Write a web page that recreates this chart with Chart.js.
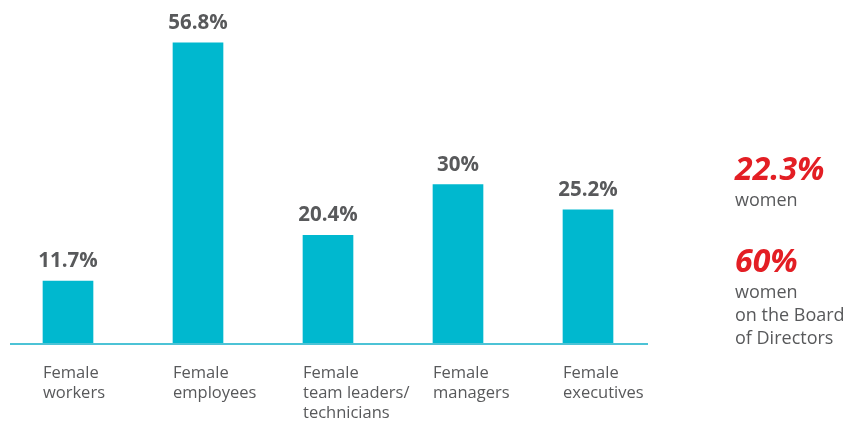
<!DOCTYPE html>
<html>
<head>
<meta charset="utf-8">
<script src="https://cdn.jsdelivr.net/npm/chart.js@4"></script>
<style>
  html, body { margin: 0; padding: 0; background: #fff; }
  #wrap { position: relative; width: 850px; height: 422px; }
</style>
</head>
<body>
<div id="wrap"><canvas id="womenChart"></canvas></div>
<script>
// Data
var categories = [
    ['Female', 'workers'],
    ['Female', 'employees'],
    ['Female', 'team leaders/', 'technicians'],
    ['Female', 'managers'],
    ['Female', 'executives']
];
var shares = [11.7, 56.8, 20.4, 30, 25.2];
var shareLabels = ['11.7%', '56.8%', '20.4%', '30%', '25.2%'];

// Side notes
var noteValues = ['22.3%', '60%'];
var noteTexts = [['women'], ['women', 'on the Board', 'of Directors']];

var BAR = '#00b8cf';
var GREY = '#58595b';
var RED = '#e31e24';
var FONT = '"Open Sans", sans-serif';

// value labels above each bar
var valueLabels = {
    id: 'valueLabels',
    afterDatasetsDraw: function(chart) {
        var ctx = chart.ctx;
        var meta = chart.getDatasetMeta(0);
        ctx.save();
        ctx.font = 'bold 20.5px ' + FONT;
        ctx.fillStyle = GREY;
        ctx.textAlign = 'center';
        ctx.textBaseline = 'alphabetic';
        meta.data.forEach(function(bar, i) {
            ctx.fillText(shareLabels[i], bar.x, bar.y - 14);
        });
        ctx.restore();
    }
};

// thin cyan baseline under the bars
var baseline = {
    id: 'baseline',
    afterDatasetsDraw: function(chart) {
        var ctx = chart.ctx;
        var area = chart.chartArea;
        var y = chart.scales.y.getPixelForValue(0);
        ctx.save();
        ctx.strokeStyle = '#4cc3d6';
        ctx.lineWidth = 2;
        ctx.beginPath();
        ctx.moveTo(area.left + 7, y + 1);
        ctx.lineTo(area.right - 5, y + 1);
        ctx.stroke();
        ctx.restore();
    }
};

// the two notes on the right
var sideNotes = {
    id: 'sideNotes',
    afterDraw: function(chart) {
        var ctx = chart.ctx;
        var x = 735;
        var tops = [180, 272];
        ctx.save();
        ctx.textAlign = 'left';
        ctx.textBaseline = 'alphabetic';
        noteValues.forEach(function(v, i) {
            ctx.font = 'italic bold 32px ' + FONT;
            ctx.fillStyle = RED;
            ctx.fillText(v, x, tops[i]);
            ctx.font = '18px ' + FONT;
            ctx.fillStyle = GREY;
            noteTexts[i].forEach(function(line, j) {
                ctx.fillText(line, x, tops[i] + 26 + j * 23);
            });
        });
        ctx.restore();
    }
};

new Chart(document.getElementById('womenChart'), {
    type: 'bar',
    data: {
        labels: categories,
        datasets: [{
            data: shares,
            backgroundColor: BAR,
            borderWidth: 0,
            barThickness: 50
        }]
    },
    options: {
        responsive: true,
        maintainAspectRatio: false,
        animation: false,
        layout: {
            // tick padding is counted twice in the axis height, pull it back
            padding: { left: 3, right: 197, top: 26, bottom: -21 }
        },
        plugins: {
            legend: { display: false },
            tooltip: { enabled: false }
        },
        scales: {
            x: {
                grid: { display: false, drawTicks: false },
                border: { display: false },
                ticks: {
                    color: GREY,
                    align: 'start',
                    labelOffset: -25,
                    padding: 20,
                    maxRotation: 0,
                    autoSkip: false,
                    font: { family: FONT, size: 16.5, lineHeight: '20px' }
                }
            },
            y: {
                display: false,
                min: 0,
                max: 60
            }
        }
    },
    plugins: [valueLabels, baseline, sideNotes]
});
</script>
</body>
</html>
